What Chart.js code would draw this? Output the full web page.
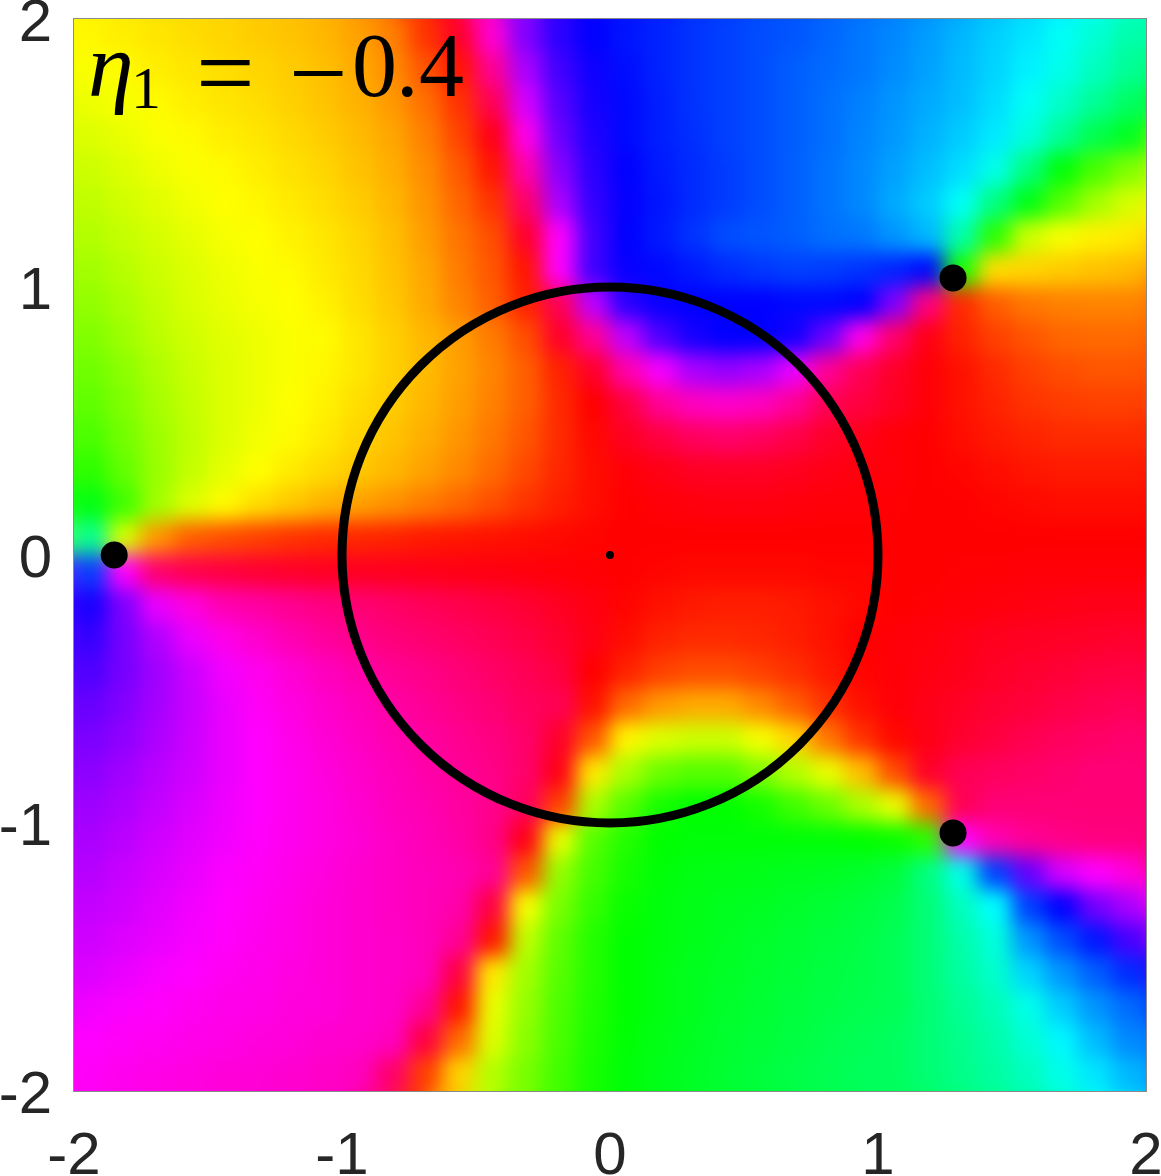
<!DOCTYPE html>
<html>
<head>
<meta charset="utf-8">
<title>eta1 = -0.4</title>
<script src="https://cdn.jsdelivr.net/npm/chart.js@4"></script>
<style>
  html, body { margin: 0; background: #fff; overflow: hidden; }
  canvas { display: block; }
</style>
</head>
<body>
<canvas id="phaseChart" width="1161" height="1176"></canvas>
<script>
// cell centres, read on a 1/8 unit grid
const xCentres = [-1.9375,-1.8125,-1.6875,-1.5625,-1.4375,-1.3125,-1.1875,-1.0625,-0.9375,-0.8125,-0.6875,-0.5625,-0.4375,-0.3125,-0.1875,-0.0625,0.0625,0.1875,0.3125,0.4375,0.5625,0.6875,0.8125,0.9375,1.0625,1.1875,1.3125,1.4375,1.5625,1.6875,1.8125,1.9375];
const yCentres = [1.9375,1.8125,1.6875,1.5625,1.4375,1.3125,1.1875,1.0625,0.9375,0.8125,0.6875,0.5625,0.4375,0.3125,0.1875,0.0625,-0.0625,-0.1875,-0.3125,-0.4375,-0.5625,-0.6875,-0.8125,-0.9375,-1.0625,-1.1875,-1.3125,-1.4375,-1.5625,-1.6875,-1.8125,-1.9375];

// hue in degrees, one row per yCentres entry
const hueRows = [
  [58,56,54,52,50,48,46,43,38,30,12,350,310,270,250,240,235,232,228,225,222,220,216,212,208,203,197,191,186,178,170,160],
  [61,59,56,54,52,50,48,45,40,33,20,5,325,280,255,243,237,232,228,225,222,218,215,212,207,202,196,190,183,175,165,155],
  [64,62,59,56,54,52,49,46,42,36,26,12,340,290,260,245,238,233,228,225,222,218,214,210,205,200,195,188,178,167,155,143],
  [68,65,61,59,56,54,51,48,44,39,30,16,355,305,265,247,238,233,229,225,222,218,214,209,204,198,192,185,172,155,138,128],
  [72,68,64,61,59,56,53,50,46,41,33,21,5,320,272,250,240,234,230,226,222,218,213,208,202,195,188,175,150,122,103,90],
  [75,71,67,63,60,58,55,52,48,43,35,24,12,335,280,252,241,235,230,226,222,218,213,208,200,192,178,150,125,100,82,70],
  [78,74,70,66,62,60,57,54,50,45,37,27,18,350,300,255,240,234,228,222,220,218,214,212,205,197,160,110,72,62,57,55],
  [82,77,72,68,64,61,59,55,51,46,39,29,20,5,300,255,242,238,234,230,227,225,226,228,232,238,115,52,50,48,46,44],
  [86,80,74,69,65,62,60,57,52,47,40,31,22,8,340,285,250,242,240,240,240,238,238,240,270,330,10,22,28,30,31,31],
  [90,83,76,71,67,64,61,59,54,49,43,37,29,18,350,325,285,258,245,240,240,245,265,305,335,355,8,15,20,24,25,25],
  [94,87,79,73,68,64,61,58,54,49,44,38,31,22,8,350,320,298,280,275,280,295,325,340,350,358,4,10,15,18,20,20],
  [98,90,81,74,68,64,60,57,52,48,43,37,30,22,10,0,345,325,315,312,315,325,340,345,352,358,4,8,12,14,15,15],
  [103,93,83,75,68,63,59,55,50,46,41,35,28,20,10,2,352,345,338,335,338,343,350,354,358,0,3,6,8,10,10,10],
  [110,97,84,74,66,60,55,51,47,43,38,32,25,17,9,3,358,355,352,351,351,353,355,357,358,0,1,3,5,6,6,6],
  [125,105,82,68,59,52,47,42,38,34,29,24,18,12,7,3,0,358,357,356,356,357,358,358,359,0,0,1,2,3,3,3],
  [155,70,35,22,18,15,12,10,9,8,6,5,4,3,2,1,0,0,0,0,0,0,0,0,0,0,0,0,0,0,0,0],
  [225,300,335,342,345,348,350,352,352,353,354,355,356,357,358,359,0,1,2,2,2,2,1,1,0,0,359,359,358,358,358,358],
  [245,270,295,308,318,322,326,330,333,336,339,342,345,348,352,356,1,4,6,7,7,6,4,2,0,359,358,357,356,355,354,354],
  [252,268,282,295,305,312,318,323,327,331,334,337,340,344,349,355,3,8,10,10,9,7,4,0,358,357,355,353,352,351,350,349],
  [258,268,278,288,297,304,310,315,320,325,328,332,336,340,345,0,8,15,18,18,15,11,6,1,358,356,354,351,349,347,345,344],
  [264,271,279,287,295,302,307,312,316,321,325,329,333,338,340,4,25,36,40,40,32,22,12,4,358,354,351,348,346,343,341,339],
  [269,274,281,288,295,300,305,310,314,318,322,326,330,335,350,20,58,68,72,72,62,50,28,12,2,355,349,345,341,338,336,334],
  [273,278,284,289,295,300,304,308,312,316,320,324,328,335,355,55,80,95,100,100,90,78,65,45,18,350,340,338,336,334,332,332],
  [277,281,286,291,296,300,304,307,311,315,318,322,327,338,15,80,100,115,120,120,115,105,95,80,65,25,340,332,332,332,332,332],
  [280,284,289,293,297,301,304,307,310,314,317,321,328,355,65,100,112,120,122,122,122,122,122,120,118,110,300,318,325,328,330,330],
  [283,287,291,295,299,302,305,308,311,314,316,318,325,20,85,104,115,122,124,125,126,127,128,130,134,150,175,225,264,290,300,308],
  [286,289,293,297,300,303,306,309,311,314,316,320,345,62,92,108,118,123,125,127,128,130,132,134,138,148,165,180,225,240,267,280],
  [289,292,295,298,301,304,306,309,311,313,316,325,5,75,98,112,120,123,126,128,130,132,134,136,140,148,160,172,205,222,235,257],
  [292,295,298,300,303,305,307,309,311,313,316,345,55,82,100,112,120,124,127,129,131,133,135,137,140,148,158,168,190,205,218,230],
  [297,299,301,303,305,306,308,309,311,313,325,5,65,85,102,113,120,124,127,130,132,134,136,138,140,147,155,163,175,192,205,215],
  [300,302,303,305,306,308,309,311,312,315,345,25,68,88,103,114,121,125,128,131,133,135,138,140,142,147,153,160,170,182,196,208],
  [302,304,306,307,309,310,311,313,315,335,15,50,78,92,105,115,122,126,129,132,134,137,139,141,142,147,152,158,165,175,186,197]
];

const rootX = [-1.85, 1.28, 1.28];
const rootY = [0, 1.034, -1.037];
const centre = [0, 0];
const circleRadius = 1;
const tickValues = [-2, -1, 0, 1, 2];

const cellPoints = [];
yCentres.forEach(function (y, r) {
    xCentres.forEach(function (x, c) {
        cellPoints.push({ x: x, y: y, hue: hueRows[r][c] });
    });
});

const CELL_DATASET = 3;

const framePlugin = {
    id: 'frame',
    // soften the cell edges once the library has drawn the cells
    afterDatasetDraw(chart, args) {
        if (args.index !== CELL_DATASET) return;
        const a = chart.chartArea;
        const ctx = chart.ctx;
        const pad = 40;
        const tmp = document.createElement('canvas');
        tmp.width = a.width + 2 * pad;
        tmp.height = a.height + 2 * pad;
        const t = tmp.getContext('2d');
        t.drawImage(chart.canvas, a.left, a.top, a.width, a.height, 0, 0, tmp.width, tmp.height);
        t.drawImage(chart.canvas, a.left, a.top, a.width, a.height, pad, pad, a.width, a.height);
        ctx.save();
        ctx.beginPath();
        ctx.rect(a.left, a.top, a.width, a.height);
        ctx.clip();
        ctx.filter = 'blur(10px)';
        ctx.drawImage(tmp, a.left - pad, a.top - pad);
        ctx.restore();
    },
    afterDatasetsDraw(chart) {
        const a = chart.chartArea;
        const ctx = chart.ctx;
        ctx.save();
        ctx.strokeStyle = '#8a8a8a';
        ctx.lineWidth = 1;
        ctx.strokeRect(a.left - 0.5, a.top - 0.5, a.width + 1, a.height + 1);
        // annotation in the top left corner
        ctx.fillStyle = '#000';
        ctx.textBaseline = 'alphabetic';
        ctx.font = 'italic 92px "Liberation Serif"';
        ctx.fillText('\u03b7', 88, 96);
        ctx.font = '60px "Liberation Serif"';
        ctx.fillText('1', 131, 108);
        ctx.font = '104px "Liberation Serif"';
        ctx.fillText('=', 196, 108);
        ctx.fillText('\u2212', 289, 108);
        ctx.font = '90px "Liberation Serif"';
        ctx.fillText('0', 352, 96);
        ctx.fillText('.', 396, 96);
        ctx.fillText('4', 419, 96);
        ctx.restore();
    }
};

new Chart(document.getElementById('phaseChart'), {
    type: 'scatter',
    plugins: [framePlugin],
    data: {
        datasets: [
            {
                // unit circle, radius taken from the x scale
                data: [{ x: centre[0], y: centre[1] }],
                pointRadius: function (c) {
                    const s = c.chart.scales.x;
                    return s.getPixelForValue(circleRadius) - s.getPixelForValue(0);
                },
                pointBackgroundColor: 'rgba(0,0,0,0)',
                pointBorderColor: '#000',
                pointBorderWidth: 9,
                order: 1
            },
            {
                data: rootX.map(function (x, i) { return { x: x, y: rootY[i] }; }),
                pointRadius: 13.5,
                pointBackgroundColor: '#000',
                pointBorderWidth: 0,
                order: 0
            },
            {
                data: [{ x: centre[0], y: centre[1] }],
                pointRadius: 4,
                pointBackgroundColor: '#000',
                pointBorderWidth: 0,
                order: 0
            },
            {
                data: cellPoints,
                pointStyle: 'rect',
                pointRadius: function (c) {
                    const s = c.chart.scales.x;
                    // rect style draws radius/sqrt2 either side of the centre
                    return (s.getPixelForValue(0.125) - s.getPixelForValue(0) + 1) / 2 * Math.SQRT2;
                },
                pointBorderWidth: 0,
                pointBackgroundColor: function (c) {
                    return 'hsl(' + c.raw.hue + ',100%,50%)';
                },
                order: 2
            }
        ]
    },
    options: {
        responsive: false,
        animation: false,
        events: [],
        layout: { padding: { left: 0, top: 19, right: 15, bottom: 0 } },
        plugins: { legend: { display: false }, tooltip: { enabled: false } },
        scales: {
            x: {
                type: 'linear',
                min: -2,
                max: 2,
                afterBuildTicks: function (s) { s.ticks = tickValues.map(function (v) { return { value: v }; }); },
                afterFit: function (s) {
                    s.height = 85;
                    s.paddingLeft = 0; s.paddingRight = 0;
                },
                grid: { display: false },
                border: { display: false },
                ticks: {
                    maxRotation: 0,
                    autoSkip: false,
                    padding: 22,
                    color: '#262626',
                    font: { family: '"Liberation Sans"', size: 60 },
                    callback: function (v) { return String(v); }
                }
            },
            y: {
                type: 'linear',
                min: -2,
                max: 2,
                afterBuildTicks: function (s) { s.ticks = tickValues.map(function (v) { return { value: v }; }); },
                afterFit: function (s) {
                    s.width = 74;
                    s.paddingTop = 0; s.paddingBottom = 0;
                },
                grid: { display: false },
                border: { display: false },
                ticks: {
                    autoSkip: false,
                    padding: 14,
                    color: '#262626',
                    // empty first line nudges the digit down by half a line height
                    font: { family: '"Liberation Sans"', size: 60, lineHeight: '10px' },
                    callback: function (v) { return ['', String(v)]; }
                }
            }
        }
    }
});
</script>
</body>
</html>
